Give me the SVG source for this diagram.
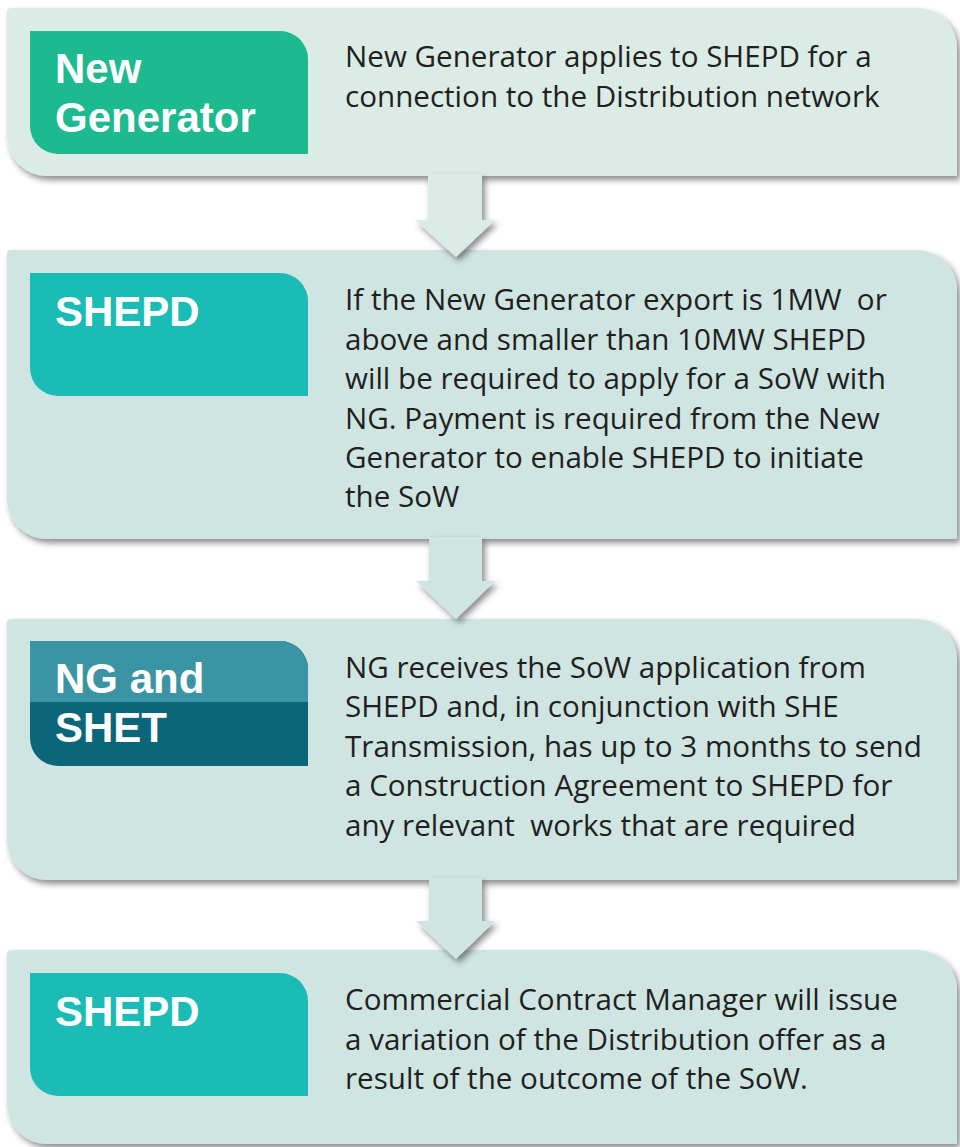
<svg xmlns="http://www.w3.org/2000/svg" width="960" height="1147" viewBox="0 0 960 1147">
<defs>
<filter id="sh" x="-5%" y="-10%" width="115%" height="130%">
<feDropShadow dx="3" dy="4" stdDeviation="3" flood-color="#000" flood-opacity="0.45"/>
</filter>
<style>
.body{font-family:"Open Sans","Liberation Sans",sans-serif;font-size:29.6px;fill:#231f20;white-space:pre}
.lab{font-family:"Liberation Sans",Arial,sans-serif;font-size:42px;font-weight:bold;fill:#ffffff}
.b1{fill:#dbebe5}
.b2{fill:#cfe5e2}
.arr{fill:#cfe5e2}
</style>
</defs>
<rect width="960" height="1147" fill="#ffffff"/>
<g id="node1">
<path class="b1" filter="url(#sh)" d="M11 8H917A40 40 0 0 1 957 48V176H47A40 40 0 0 1 7 136V12A4 4 0 0 1 11 8Z"/>
<path fill="#1db98f" d="M30 31H280A28 28 0 0 1 308 59V154H58A28 28 0 0 1 30 126Z"/>
<text class="lab"><tspan x="55" y="83">New</tspan><tspan x="55" y="132">Generator</tspan></text>
<text class="body" x="345" y="67">New Generator applies to SHEPD for a</text>
<text class="body" x="345" y="107">connection to the Distribution network</text>
</g>
<g id="node2">
<path class="b2" filter="url(#sh)" d="M11 250H917A40 40 0 0 1 957 290V539H47A40 40 0 0 1 7 499V254A4 4 0 0 1 11 250Z"/>
<path fill="#1bbcb5" d="M30 273H280A28 28 0 0 1 308 301V396H58A28 28 0 0 1 30 368Z"/>
<text class="lab" x="55" y="326">SHEPD</text>
<text class="body" x="345" y="310">If the New Generator export is 1MW  or</text>
<text class="body" x="345" y="350">above and smaller than 10MW SHEPD</text>
<text class="body" x="345" y="389">will be required to apply for a SoW with</text>
<text class="body" x="345" y="429">NG. Payment is required from the New</text>
<text class="body" x="345" y="468">Generator to enable SHEPD to initiate</text>
<text class="body" x="345" y="507">the SoW</text>
</g>
<g id="node3">
<path class="b2" filter="url(#sh)" d="M11 619H917A40 40 0 0 1 957 659V880H47A40 40 0 0 1 7 840V623A4 4 0 0 1 11 619Z"/>
<path fill="#0c6679" d="M30 641H280A28 28 0 0 1 308 669V766H58A28 28 0 0 1 30 738Z"/>
<path fill="#3a94a3" d="M30 641H280A28 28 0 0 1 308 669V702H30Z"/>
<text class="lab"><tspan x="55" y="693">NG and</tspan><tspan x="55" y="742">SHET</tspan></text>
<text class="body" x="345" y="678">NG receives the SoW application from</text>
<text class="body" x="345" y="717">SHEPD and, in conjunction with SHE</text>
<text class="body" x="345" y="757">Transmission, has up to 3 months to send</text>
<text class="body" x="345" y="796">a Construction Agreement to SHEPD for</text>
<text class="body" x="345" y="836">any relevant  works that are required</text>
</g>
<g id="node4">
<path class="b2" filter="url(#sh)" d="M11 950H917A40 40 0 0 1 957 990V1144H47A40 40 0 0 1 7 1104V954A4 4 0 0 1 11 950Z"/>
<path fill="#1bbcb5" d="M30 973H280A28 28 0 0 1 308 1001V1096H58A28 28 0 0 1 30 1068Z"/>
<text class="lab" x="55" y="1026">SHEPD</text>
<text class="body" x="345" y="1010">Commercial Contract Manager will issue</text>
<text class="body" x="345" y="1050">a variation of the Distribution offer as a</text>
<text class="body" x="345" y="1089">result of the outcome of the SoW.</text>
</g>
<g id="connectors">
<path class="b1" filter="url(#sh)" d="M428 174H482V220H495L456 257L415 220H428Z"/>
<path class="arr" filter="url(#sh)" d="M429 537H482V581H495L456 619L416 581H429Z"/>
<path class="arr" filter="url(#sh)" d="M429 878H482V921H495L456 959L416 921H429Z"/>
</g>
</svg>
